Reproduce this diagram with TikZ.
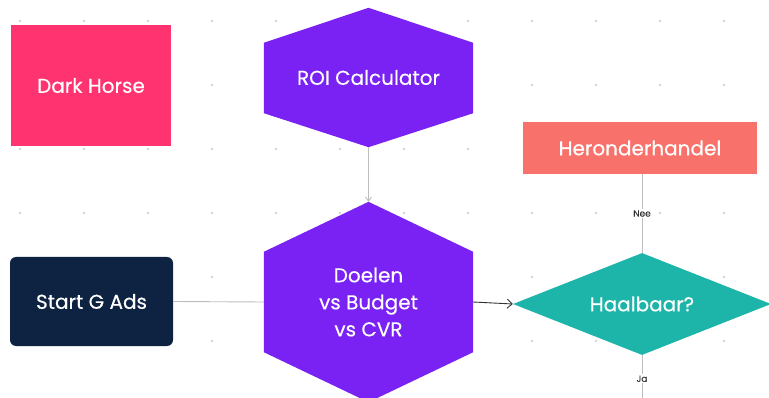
\documentclass[tikz,border=0pt]{standalone}
\usepackage{fontspec}
\setmainfont{Poppins}
\newfontfamily\medfont{Poppins}[FakeBold=0.35]
\usetikzlibrary{shapes.geometric,calc,arrows.meta}
\definecolor{horsepink}{HTML}{FF3370}
\definecolor{hexviolet}{HTML}{7A21F4}
\definecolor{startnavy}{HTML}{0D2341}
\definecolor{dealsalmon}{HTML}{F8716A}
\definecolor{checkteal}{HTML}{1DB5A9}
\definecolor{griddot}{HTML}{D6D6D6}
\definecolor{linkgrey}{HTML}{BDBDBD}
\definecolor{labelgrey}{HTML}{333333}
\tikzset{
  boxtext/.style={font=\medfont\fontsize{20}{24}\selectfont, text=white, align=center},
  hexframe/.style={minimum width=209pt, inner sep=0pt},
  link/.style={draw=linkgrey, line width=0.9pt},
  linklabel/.style={fill=white, font=\medfont\fontsize{9}{10}\selectfont, text=labelgrey, inner sep=1.5pt},
}
\begin{document}
\begin{tikzpicture}[x=1pt,y=-1pt]
\useasboundingbox (0,0) rectangle (769,398);
\fill[white] (0,0) rectangle (769,398);
% dotted canvas grid
\foreach \i in {0,...,11}{
  \foreach \j in {0,...,6}{
    \fill[griddot] (20+64*\i,21+64*\j) circle (1.3pt);
  }
}
% Dark Horse
\node[boxtext, fill=horsepink, minimum width=160pt, minimum height=121pt, inner sep=0pt] (horse) at (91,85.5) {Dark Horse};
% Start G Ads
\node[boxtext, fill=startnavy, rounded corners=6pt, minimum width=163pt, minimum height=89pt, inner sep=0pt] (start) at (91.5,301.5) {Start G Ads};
% ROI Calculator hexagon
\node[hexframe, minimum height=139pt] (roi) at (368.5,77.5) {};
\fill[hexviolet] (roi.north) -- ($(roi.north east)+(0,35)$) -- ($(roi.south east)+(0,-34)$)
  -- (roi.south) -- ($(roi.south west)+(0,-34)$) -- ($(roi.north west)+(0,35)$) -- cycle;
\node[boxtext] (roitext) at (roi.center) {ROI Calculator};
% Doelen hexagon
\node[hexframe, minimum height=200pt] (goals) at (368.5,302) {};
\fill[hexviolet] (goals.north) -- ($(goals.north east)+(0,50)$) -- ($(goals.south east)+(0,-50)$)
  -- (goals.south) -- ($(goals.south west)+(0,-50)$) -- ($(goals.north west)+(0,50)$) -- cycle;
\node[boxtext, font=\medfont\fontsize{20}{27}\selectfont] (goalstext) at (goals.center) {Doelen\\vs Budget\\vs CVR};
% Haalbaar decision
\node[diamond, boxtext, fill=checkteal, minimum width=258pt, minimum height=102pt, inner sep=0pt, aspect=2.53] (feasible) at (642,304) {Haalbaar?};
% Heronderhandel
\node[boxtext, fill=dealsalmon, minimum width=234pt, minimum height=52pt, inner sep=0pt] (renegotiate) at (640,148) {Heronderhandel};
% connectors
\draw[link, -{Straight Barb[length=4pt,width=6pt]}] (roi.south) -- (goals.north);
\draw[link] (start.east) -- (goals.west);
\draw[draw=labelgrey, line width=0.9pt, -{Straight Barb[length=5pt,width=9pt]}] (goals.east) -- (feasible.west);
\draw[link] (feasible.north) -- (feasible.north |- renegotiate.south) node[linklabel, pos=0.5] (nolabel) {Nee};
\coordinate (below) at (642,398);
\draw[link] (feasible.south) -- (below) node[linklabel, pos=0.55] (yeslabel) {Ja};
\end{tikzpicture}
\end{document}
